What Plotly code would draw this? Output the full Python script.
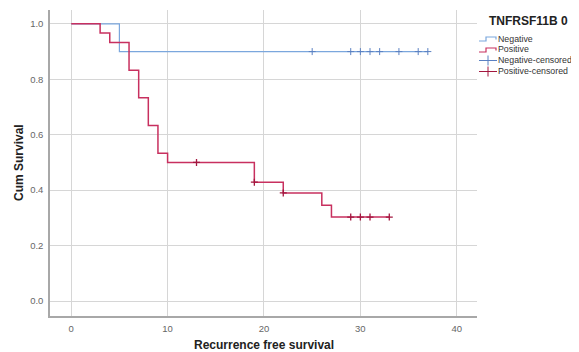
import plotly.graph_objects as go

# ---- data ----
neg_time = [0, 5, 37]
neg_surv = [1.0, 0.9, 0.9]
pos_time = [0, 3, 4, 6, 7, 8, 9, 10, 19, 22, 26, 27, 33]
pos_surv = [1.0, 0.967, 0.933, 0.833, 0.733, 0.633, 0.533, 0.5, 0.429, 0.390, 0.346, 0.303, 0.303]
neg_cens_time = [25, 29, 30, 31, 32, 34, 36, 37]
neg_cens_surv = [0.9, 0.9, 0.9, 0.9, 0.9, 0.9, 0.9, 0.9]
pos_cens_time = [13, 19, 22, 29, 30, 31, 33]
pos_cens_surv = [0.5, 0.429, 0.390, 0.303, 0.303, 0.303, 0.303]
legend_title = "TNFRSF11B 0"
legend_labels = ["Negative", "Positive", "Negative-censored", "Positive-censored"]
x_title = "Recurrence free survival"
y_title = "Cum Survival"
x_ticks = [0, 10, 20, 30, 40]
y_ticks = [0.0, 0.2, 0.4, 0.6, 0.8, 1.0]

NEG = "#7ba7dd"
POS = "#c8305f"
NEG_C = "#5a80c2"
POS_C = "#a3173f"
FONT = "Liberation Sans, Arial, sans-serif"

# page is offset by the 8px body margin
OFF = 8
W, H = 579 - OFF, 352 - OFF
ML, MR, MT, MB = 42, 102, 2, 36
PW, PH = W - ML - MR, H - MT - MB
LEFT = OFF + ML
BOTTOM = OFF + H - MB

def px(X):
    return (X - LEFT) / PW

def py(Y):
    return (BOTTOM - Y) / PH

fig = go.Figure()
fig.add_trace(go.Scatter(x=neg_time, y=neg_surv, mode="lines", line=dict(color=NEG, width=1.2, shape="hv"), name=legend_labels[0]))
fig.add_trace(go.Scatter(x=pos_time, y=pos_surv, mode="lines", line=dict(color=POS, width=1.5, shape="hv"), name=legend_labels[1]))
fig.add_trace(go.Scatter(x=neg_cens_time, y=neg_cens_surv, mode="markers",
                         marker=dict(symbol="cross-thin", size=5, line=dict(color=NEG_C, width=1)), name=legend_labels[2]))
fig.add_trace(go.Scatter(x=pos_cens_time, y=pos_cens_surv, mode="markers",
                         marker=dict(symbol="cross-thin", size=5, line=dict(color=POS_C, width=1.3)), name=legend_labels[3]))

# manual legend
shapes = []
annotations = []
annotations.append(dict(x=px(487), y=py(21), xref="paper", yref="paper", text="<b>%s</b>" % legend_title,
                        showarrow=False, xanchor="left", yanchor="middle",
                        font=dict(family=FONT, size=12, color="#222")))
rows = [38.5, 49.5, 60.5, 71.5]
cols = [NEG, POS, NEG_C, POS_C]
for i, (lab, yy, c) in enumerate(zip(legend_labels, rows, cols)):
    annotations.append(dict(x=px(496), y=py(yy), xref="paper", yref="paper", text=lab,
                            showarrow=False, xanchor="left", yanchor="middle",
                            font=dict(family=FONT, size=8.8, color="#333")))
    if i < 2:
        path = "M %f %f L %f %f L %f %f L %f %f L %f %f" % (
            px(479), py(yy + 2.5), px(486), py(yy + 2.5), px(486), py(yy - 1.5), px(496), py(yy - 1.5), px(496), py(yy + 1))
        shapes.append(dict(type="path", path=path, xref="paper", yref="paper", line=dict(color=c, width=1.2)))
    else:
        shapes.append(dict(type="line", x0=px(479), x1=px(497), y0=py(yy), y1=py(yy), xref="paper", yref="paper",
                           line=dict(color=c, width=1)))
        shapes.append(dict(type="line", x0=px(488), x1=px(488), y0=py(yy - 5), y1=py(yy + 5), xref="paper", yref="paper",
                           line=dict(color=c, width=1)))

# axis titles
annotations.append(dict(x=px(264), y=py(345), xref="paper", yref="paper", text="<b>%s</b>" % x_title,
                        showarrow=False, xanchor="center", yanchor="middle",
                        font=dict(family=FONT, size=12, color="#222")))
annotations.append(dict(x=px(19), y=py(163), xref="paper", yref="paper", text="<b>%s</b>" % y_title,
                        showarrow=False, xanchor="center", yanchor="middle", textangle=-90,
                        font=dict(family=FONT, size=12, color="#222")))

fig.update_layout(
    width=W, height=H,
    margin=dict(l=ML, r=MR, t=MT, b=MB),
    paper_bgcolor="white", plot_bgcolor="white",
    showlegend=False,
    shapes=shapes, annotations=annotations,
    font=dict(family=FONT, size=9.5, color="#666"),
)
fig.update_xaxes(range=[-2.2, 42.1], tickvals=x_ticks, ticktext=[str(v) for v in x_ticks],
                 showgrid=True, gridcolor="#d6d6d6", gridwidth=1, zeroline=False,
                 showline=True, linecolor="#a8a8a8", linewidth=1.5, ticks="", ticklabelstandoff=3)
fig.update_yaxes(range=[-0.054, 1.05], tickvals=y_ticks, ticktext=["%.1f" % v for v in y_ticks],
                 showgrid=True, gridcolor="#d6d6d6", gridwidth=1, zeroline=False,
                 showline=True, linecolor="#a8a8a8", linewidth=1.5, ticks="", ticklabelstandoff=3)

fig.write_html("out.html")
